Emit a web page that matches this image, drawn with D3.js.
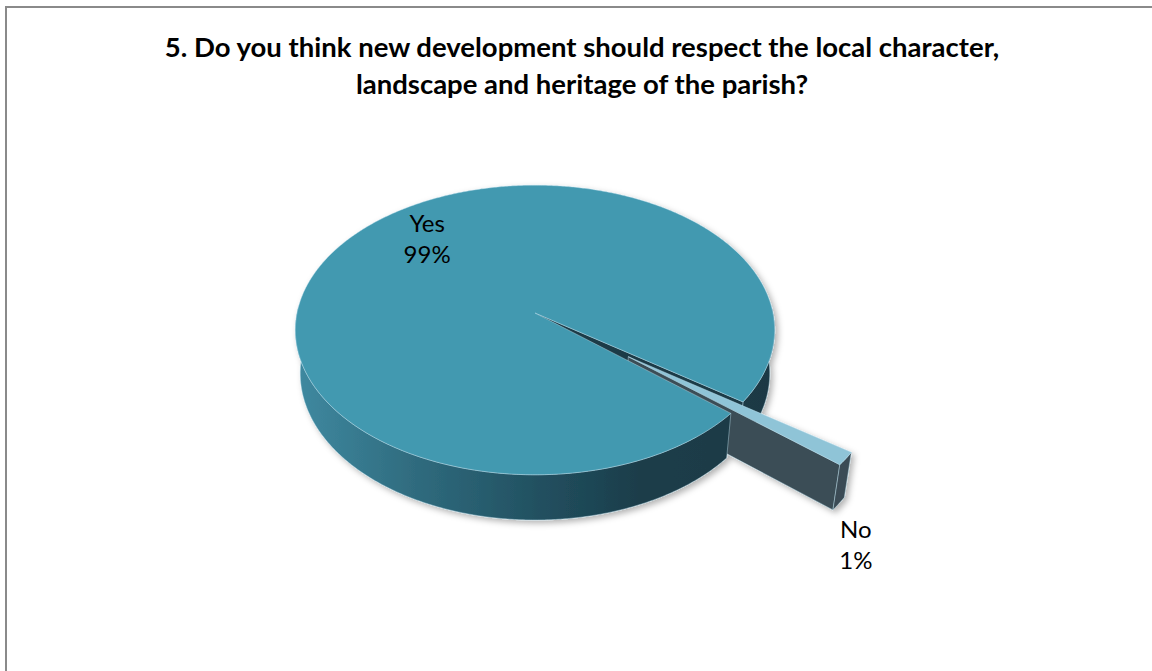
<!DOCTYPE html>
<html><head><meta charset="utf-8">
<script src="https://cdn.jsdelivr.net/npm/d3@7"></script>
<style>body{margin:0;background:#fff}svg{display:block}</style>
</head><body>
<svg id="chart" width="1152" height="671"></svg>
<script>
// ---- data ----
const titleLines = ["5. Do you think new development should respect the local character,",
                    "landscape and heritage of the parish?"];
const categories = ["Yes", "No"];
const values = [98.6, 1.4];

// ---- style / layout ----
const style = {
  top:   ["#4299b0", "#8fc4d7"],
  face:  ["#1b3a46", "#3b4e57"],
  wall:  ["#1b3a46", "#3a4c55"],
  explode: [0, 0.48]
};
const P = {cx: 535, cy: 313, f: 1623, D: 6.82, cosA: 0.8, sinA: 0.6, h: 0.232};
const startDeg = 130.5;

const svg = d3.select("#chart");
const defs = svg.append("defs");

// border
svg.append("rect").attr("x", 6).attr("y", 7).attr("width", 1300).attr("height", 800)
  .attr("fill", "none").attr("stroke", "#8a8a8a").attr("stroke-width", 2);

// title
svg.append("g").selectAll("text").data(titleLines).join("text")
  .attr("x", 582).attr("y", (d, i) => 57 + i * 37)
  .attr("text-anchor", "middle")
  .attr("font-family", "Lato, 'Open Sans', sans-serif")
  .attr("font-weight", "bold").attr("font-size", 27.5)
  .attr("fill", "#000").text(d => d);

// gradient for side wall
const grad = defs.append("linearGradient").attr("id", "wallGrad")
  .attr("gradientUnits", "userSpaceOnUse").attr("x1", 297).attr("x2", 773).attr("y1", 0).attr("y2", 0);
[[0, "#3f89a0"], [0.25, "#2f6b7e"], [0.5, "#225161"], [0.72, "#1b3d4a"], [1, "#1b3944"]]
  .forEach(([o, c]) => grad.append("stop").attr("offset", o).attr("stop-color", c));

const shadow = defs.append("filter").attr("id", "shd").attr("x", "-10%").attr("y", "-10%").attr("width", "125%").attr("height", "130%");
shadow.append("feDropShadow").attr("dx", 3).attr("dy", 3).attr("stdDeviation", 3)
  .attr("flood-color", "#000").attr("flood-opacity", 0.3);

// projection
function proj(X, Y, Z) {
  const depth = P.D - (Z * P.cosA + Y * P.sinA);
  return [P.cx + P.f * X / depth, P.cy + P.f * (Z * P.sinA - Y * P.cosA) / depth];
}
const line = d3.line().curve(d3.curveLinearClosed);

const pie = d3.pie().sort(null).value(d => d)
  .startAngle(startDeg * Math.PI / 180).endAngle(startDeg * Math.PI / 180 + 2 * Math.PI);
const arcs = pie(values).map((a, i) => {
  const t0 = a.startAngle - Math.PI / 2, t1 = a.endAngle - Math.PI / 2;
  const tm = (t0 + t1) / 2, e = style.explode[i];
  return {i, t0, t1, ox: e * Math.cos(tm), oz: e * Math.sin(tm), value: a.value};
});

function samples(s) {
  const n = Math.max(4, Math.ceil((s.t1 - s.t0) / (Math.PI / 360)));
  return d3.range(n + 1).map(k => s.t0 + (s.t1 - s.t0) * k / n);
}
function topPts(s) {
  return [proj(s.ox, 0, s.oz)].concat(samples(s).map(t => proj(s.ox + Math.cos(t), 0, s.oz + Math.sin(t))));
}
function wallRuns(s) {
  const runs = []; let cur = null;
  samples(s).forEach(t => {
    if (Math.sin(t) > -0.05) { if (!cur) { cur = []; runs.push(cur); } cur.push(t); }
    else cur = null;
  });
  return runs.map(r => ({ts: r, atEnd: Math.abs(r[r.length - 1] - s.t1) < 1e-9}));
}
function wallPts(s, ts) {
  const topA = ts.map(t => proj(s.ox + Math.cos(t), 0, s.oz + Math.sin(t)));
  const bot = ts.map(t => proj(s.ox + Math.cos(t), -P.h, s.oz + Math.sin(t))).reverse();
  return topA.concat(bot);
}
function facePts(s, t) {
  const rx = s.ox + Math.cos(t), rz = s.oz + Math.sin(t);
  return [proj(s.ox, 0, s.oz), proj(rx, 0, rz), proj(rx, -P.h, rz), proj(s.ox, -P.h, s.oz)];
}

const g = svg.append("g").attr("filter", "url(#shd)");
const yes = arcs[0], no = arcs[1];
const edge = {stroke: "rgba(190,225,238,0.55)", w: 0.8};
function draw(pts, fill) {
  g.append("path").attr("d", line(pts)).attr("fill", fill)
    .attr("stroke", edge.stroke).attr("stroke-width", edge.w).attr("stroke-linejoin", "round");
}
const yesRuns = wallRuns(yes);
// back part of Yes wall (ends at the gap)
yesRuns.filter(r => r.atEnd).forEach(r => draw(wallPts(yes, r.ts), "url(#wallGrad)"));
// Yes end radial face
draw(facePts(yes, yes.t1), style.face[0]);
// No slice sides
draw(facePts(no, no.t1), style.face[1]);
wallRuns(no).forEach(r => draw(wallPts(no, r.ts), style.wall[1]));
// front part of Yes wall
yesRuns.filter(r => !r.atEnd).forEach(r => draw(wallPts(yes, r.ts), "url(#wallGrad)"));
// tops
draw(topPts(yes), style.top[0]);
draw(topPts(no), style.top[1]);

// labels
const total = d3.sum(values);
const pct = v => Math.round(v / total * 100) + "%";
const lab = svg.append("g").attr("font-family", "Lato, 'Open Sans', sans-serif").attr("font-size", 24).attr("fill", "#000");
// Yes: inside top face
{
  const tm = (yes.t0 + yes.t1) / 2, r = 0.6;
  const p = proj(r * Math.cos(tm), 0, r * Math.sin(tm));
  const t = lab.append("text").attr("text-anchor", "middle");
  t.append("tspan").attr("x", p[0]).attr("y", p[1] - 30).text(categories[0]);
  t.append("tspan").attr("x", p[0]).attr("y", p[1] + 1).text(pct(values[0]));
}
// No: below the exploded slice
{
  const tm = (no.t0 + no.t1) / 2;
  const p = proj(no.ox + Math.cos(tm), -P.h, no.oz + Math.sin(tm));
  const t = lab.append("text").attr("text-anchor", "middle");
  t.append("tspan").attr("x", p[0] + 17).attr("y", p[1] + 34).text(categories[1]);
  t.append("tspan").attr("x", p[0] + 17).attr("y", p[1] + 65).text(pct(values[1]));
}
</script>
</body></html>
